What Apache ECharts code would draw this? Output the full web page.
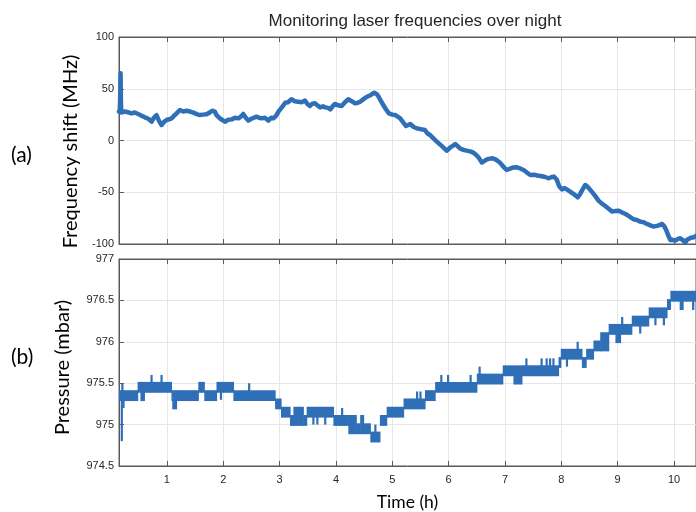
<!DOCTYPE html>
<html>
<head>
<meta charset="utf-8">
<script src="https://cdn.jsdelivr.net/npm/echarts@6/dist/echarts.min.js"></script>
<style>
  html, body { margin: 0; padding: 0; background: #ffffff; }
  #chart { width: 696px; height: 512px; }
</style>
</head>
<body>
<div id="chart"></div>
<script>
// Hour ticks on the shared time axis
const hourTicks = [1, 2, 3, 4, 5, 6, 7, 8, 9, 10];

// Laser frequency shift (MHz) against time (h)
const freqTime = [
  0.15, 0.165, 0.172, 0.178, 0.183, 0.19, 0.207, 0.25, 0.284, 0.33, 0.372, 0.43, 0.49, 0.55, 0.61, 0.67,
  0.728, 0.77, 0.816, 0.86, 0.905, 0.95, 0.994, 1.04, 1.083, 1.13, 1.172, 1.23, 1.29, 1.35, 1.41, 1.47,
  1.53, 1.586, 1.64, 1.705, 1.76, 1.805, 1.85, 1.88, 1.95, 2.03, 2.09, 2.15, 2.21, 2.27, 2.31, 2.355,
  2.40, 2.445, 2.5, 2.59, 2.635, 2.68, 2.74, 2.8, 2.85, 2.89, 2.94, 2.98, 3.04, 3.1, 3.15, 3.21,
  3.27, 3.33, 3.39, 3.45, 3.5, 3.54, 3.58, 3.63, 3.67, 3.72, 3.77, 3.81, 3.86, 3.9, 3.94, 3.98,
  4.04, 4.1, 4.16, 4.22, 4.28, 4.34, 4.39, 4.43, 4.49, 4.55, 4.62, 4.68, 4.72, 4.75, 4.80, 4.84,
  4.89, 4.94, 5.0, 5.05, 5.1, 5.14, 5.2, 5.245, 5.28, 5.32, 5.38, 5.43, 5.5, 5.58, 5.62, 5.67,
  5.73, 5.79, 5.84, 5.88, 5.93, 5.97, 6.0, 6.03, 6.08, 6.12, 6.16, 6.2, 6.26, 6.32, 6.38, 6.44,
  6.49, 6.53, 6.59, 6.63, 6.68, 6.73, 6.78, 6.84, 6.89, 6.93, 6.97, 7.03, 7.08, 7.15, 7.21, 7.27,
  7.33, 7.39, 7.45, 7.52, 7.57, 7.63, 7.7, 7.77, 7.82, 7.87, 7.92, 7.96, 8.01, 8.06, 8.09, 8.13,
  8.2, 8.25, 8.29, 8.33, 8.38, 8.425, 8.47, 8.54, 8.6, 8.66, 8.72, 8.78, 8.84, 8.9, 8.96, 9.02,
  9.08, 9.14, 9.2, 9.28, 9.34, 9.4, 9.46, 9.52, 9.58, 9.64, 9.7, 9.75, 9.79, 9.83, 9.86, 9.9,
  9.935, 9.98, 10.02, 10.07, 10.11, 10.16, 10.2, 10.23, 10.26, 10.3, 10.35, 10.39
];
const freqShift = [
  27.9, 30, 45, 64.9, 40, 27, 26.2, 28, 28.8, 27, 26.2, 27, 25.6, 24, 22.4, 21,
  18.2, 22, 24.6, 19, 15, 18, 19.8, 20.5, 21.4, 24, 26.2, 29.5, 28, 28.8, 28, 26.9,
  25.5, 24.6, 25, 25.3, 27, 28.8, 28, 24.6, 21, 18.2, 20, 20.4, 22, 21.4, 23, 25.6,
  22, 19.2, 21, 23, 22, 21.4, 22, 19.2, 22, 21.4, 24, 27.9, 32, 36.5, 37, 39.8,
  38, 37.5, 37, 38.5, 35, 33.3, 35.5, 35.9, 34, 32, 33, 32, 31.5, 30.1, 33, 35.3,
  34, 33.3, 37, 39.8, 38, 35.9, 36.5, 37.5, 40, 42.3, 44, 46.2, 45, 43, 38, 34.3,
  30, 26.2, 25, 24.6, 23, 21.4, 17, 14, 15, 15.9, 13, 11.8, 11, 10.1, 7, 5.3,
  2, -1.1, -3.5, -5.3, -8, -9.8, -8, -6.6, -5, -3.4, -5.5, -7.6, -9, -9.8, -10.5, -11.8,
  -14, -16.3, -21.4, -20, -18.2, -17.5, -17.2, -18.5, -20.5, -22.5, -25.3, -28.5, -27.5, -26, -25.9, -27,
  -28.5, -31, -33.3, -33, -33.8, -34.3, -35, -36.5, -35.5, -34.9, -38, -44, -47.2, -46, -46.5, -48.4,
  -51, -53, -54.9, -52, -47, -43, -45, -49.4, -53.5, -58.1, -61, -63.3, -66, -68.7, -68, -67.8,
  -69.5, -71, -73, -76.1, -76.8, -78.4, -79, -80.6, -82, -83.2, -82.5, -81.5, -80.6, -83, -86.4, -92,
  -96.1, -96, -96.7, -95, -94.5, -96.5, -98.7, -96, -94.5, -94, -93.5, -92.2
];

// Pressure (mbar): within each span the sensor flickers between two 0.1 mbar levels
// [start h, end h, lower level, upper level]
const pressureSpans = [
  [0.15, 0.48, 975.3, 975.4], [0.48, 0.53, 975.4, 975.5], [0.53, 0.60, 975.3, 975.5],
  [0.60, 1.08, 975.4, 975.5], [1.08, 1.095, 975.3, 975.4], [1.095, 1.17, 975.2, 975.4],
  [1.17, 1.557, 975.3, 975.4], [1.557, 1.663, 975.4, 975.5], [1.663, 1.88, 975.3, 975.4],
  [1.88, 2.18, 975.4, 975.5], [2.18, 2.92, 975.3, 975.4], [2.92, 3.025, 975.2, 975.3],
  [3.025, 3.185, 975.1, 975.2], [3.185, 3.245, 975.0, 975.1], [3.245, 3.42, 975.0, 975.2],
  [3.42, 3.48, 975.0, 975.1], [3.48, 3.955, 975.1, 975.2], [3.955, 4.22, 975.0, 975.1],
  [4.22, 4.36, 974.9, 975.1], [4.36, 4.43, 974.9, 975.0], [4.43, 4.49, 974.9, 975.1],
  [4.49, 4.61, 974.9, 975.0], [4.61, 4.78, 974.8, 974.9], [4.78, 4.90, 975.0, 975.1],
  [4.90, 5.20, 975.1, 975.2], [5.20, 5.58, 975.2, 975.3], [5.58, 5.76, 975.3, 975.4],
  [5.76, 6.50, 975.4, 975.5], [6.50, 6.96, 975.5, 975.6], [6.96, 7.15, 975.6, 975.7],
  [7.15, 7.30, 975.5, 975.7], [7.30, 7.95, 975.6, 975.7], [7.95, 7.99, 975.7, 975.8],
  [7.99, 8.365, 975.8, 975.9], [8.365, 8.44, 975.7, 975.8], [8.44, 8.57, 975.8, 975.9],
  [8.57, 8.69, 975.9, 976.0], [8.69, 8.84, 975.9, 976.1], [8.84, 8.96, 976.1, 976.2],
  [8.96, 9.05, 976.0, 976.2], [9.05, 9.25, 976.1, 976.2], [9.25, 9.55, 976.2, 976.3],
  [9.55, 9.875, 976.3, 976.4], [9.875, 9.935, 976.4, 976.5], [9.935, 10.10, 976.5, 976.6],
  [10.10, 10.16, 976.4, 976.6], [10.16, 10.32, 976.5, 976.6], [10.32, 10.35, 976.4, 976.6],
  [10.35, 10.39, 976.5, 976.6]
];
// Single-sample excursions: [time h, from mbar, to mbar]
const pressureSpikes = [
  [0.20, 975.3, 974.8], [0.21, 975.4, 975.5], [0.23, 975.3, 975.2], [0.728, 975.5, 975.6],
  [0.905, 975.5, 975.6], [1.96, 975.4, 975.3], [2.46, 975.4, 975.5], [3.60, 975.1, 975.0],
  [3.67, 975.1, 975.0], [3.81, 975.1, 975.0], [4.11, 975.1, 975.2], [4.70, 974.9, 975.0],
  [5.44, 975.3, 975.4], [5.50, 975.3, 975.4], [5.87, 975.5, 975.6], [5.99, 975.5, 975.6],
  [6.39, 975.5, 975.6], [6.55, 975.6, 975.7], [7.38, 975.7, 975.8], [7.65, 975.7, 975.8],
  [7.74, 975.7, 975.8], [7.80, 975.7, 975.8], [7.86, 975.7, 975.8], [8.10, 975.8, 975.7],
  [8.29, 975.9, 976.0], [9.08, 976.2, 976.3], [9.40, 976.2, 976.1], [9.67, 976.3, 976.2],
  [9.82, 976.3, 976.2]
];

const BLUE = '#2f6fb8';
const INK = '#262626';
const FRAME = '#5a5a5a';
const GRIDLINE = '#e6e6e6';
const TIME_MIN = 0.15, TIME_MAX = 10.39;

function timeAxis(gridIndex, position, withLabels) {
  return {
    type: 'value', gridIndex: gridIndex, position: position,
    min: TIME_MIN, max: TIME_MAX,
    axisLine: { show: true, onZero: false, lineStyle: { color: FRAME, width: 1 } },
    axisTick: { show: true, inside: true, length: 5, customValues: hourTicks,
                lineStyle: { color: FRAME, width: 1 } },
    axisLabel: { show: withLabels, customValues: hourTicks, margin: 8,
                 color: INK, fontSize: 11, fontFamily: 'Liberation Sans' },
    splitLine: { show: position === 'bottom', lineStyle: { color: GRIDLINE, width: 1 } }
  };
}

// shiftDown moves the rotated axis title along the axis (screen pixels)
function valueAxis(gridIndex, min, max, interval, name, gap, shiftDown) {
  return {
    type: 'value', gridIndex: gridIndex, position: 'left',
    min: min, max: max, interval: interval,
    axisLine: { show: true, onZero: false, lineStyle: { color: FRAME, width: 1 } },
    axisTick: { show: true, inside: true, length: 5, lineStyle: { color: FRAME, width: 1 } },
    axisLabel: { margin: 5, color: INK, fontSize: 11, fontFamily: 'Liberation Sans' },
    splitLine: { show: true, lineStyle: { color: GRIDLINE, width: 1 } },
    name: name, nameLocation: 'middle', nameRotate: 90, nameGap: gap,
    nameTextStyle: { color: '#000000', fontSize: 20, fontFamily: 'Lato',
                     padding: [0, shiftDown * 2, 0, 0] }
  };
}

const chart = echarts.init(document.getElementById('chart'), null, { renderer: 'canvas' });

chart.setOption({
  animation: false,
  backgroundColor: '#ffffff',
  title: {
    text: 'Monitoring laser frequencies over night',
    left: 410, top: 8, textAlign: 'center',
    textStyle: { color: INK, fontSize: 17, fontWeight: 'normal', fontFamily: 'Liberation Sans' }
  },
  grid: [
    { left: 119, top: 37, width: 578, height: 207, show: true, borderColor: FRAME, borderWidth: 1, backgroundColor: '#ffffff' },
    { left: 119, top: 259, width: 578, height: 208, show: true, borderColor: FRAME, borderWidth: 1, backgroundColor: '#ffffff' }
  ],
  xAxis: [
    timeAxis(0, 'bottom', false),
    timeAxis(0, 'top', false),
    Object.assign(timeAxis(1, 'bottom', true), {
      name: 'Time (h)', nameLocation: 'middle', nameGap: 27,
      nameTextStyle: { color: '#000000', fontSize: 17.5, fontFamily: 'Lato' }
    }),
    timeAxis(1, 'top', false)
  ],
  yAxis: [
    valueAxis(0, -100, 100, 50, 'Frequency shift (MHz)', 38, 11),
    valueAxis(1, 974.5, 977, 0.5, 'Pressure (mbar)', 46, 5)
  ],
  graphic: [
    { type: 'text', left: 11, top: 145, style: { text: '(a)', fill: '#000000', font: '21px Lato' } },
    { type: 'text', left: 11, top: 347, style: { text: '(b)', fill: '#000000', font: '21px Lato' } }
  ],
  series: [
    {
      type: 'line', xAxisIndex: 0, yAxisIndex: 0,
      data: freqTime.map((t, i) => [t, freqShift[i]]),
      showSymbol: false, symbol: 'none', clip: true,
      lineStyle: { color: BLUE, width: 4.5, join: 'round', cap: 'round' }
    },
    {
      type: 'custom', xAxisIndex: 2, yAxisIndex: 1, clip: true,
      data: pressureSpans,
      encode: { x: [0, 1], y: [2, 3] },
      renderItem: function (params, api) {
        const a = api.coord([api.value(0), api.value(3)]);
        const b = api.coord([api.value(1), api.value(2)]);
        return {
          type: 'rect',
          shape: { x: a[0], y: a[1] - 1.3, width: b[0] - a[0] + 0.6, height: b[1] - a[1] + 2.6 },
          style: { fill: BLUE }
        };
      }
    },
    {
      type: 'custom', xAxisIndex: 2, yAxisIndex: 1, clip: true,
      data: pressureSpikes,
      encode: { x: 0, y: [1, 2] },
      renderItem: function (params, api) {
        const a = api.coord([api.value(0), api.value(1)]);
        const b = api.coord([api.value(0), api.value(2)]);
        return {
          type: 'line',
          shape: { x1: a[0], y1: a[1], x2: b[0], y2: b[1] },
          style: { stroke: BLUE, lineWidth: 2.2 }
        };
      }
    }
  ]
});
</script>
</body>
</html>
